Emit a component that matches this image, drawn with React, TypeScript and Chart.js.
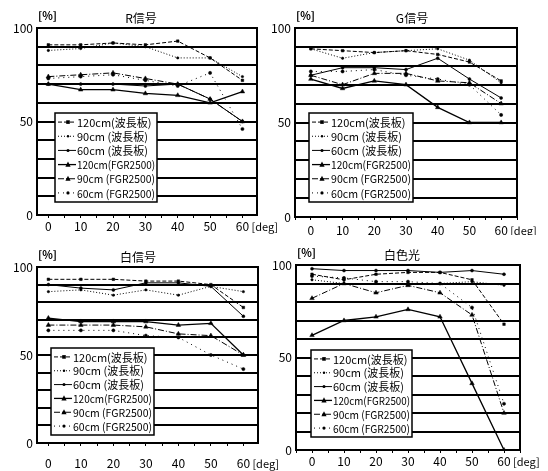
import React, { useEffect, useRef } from "react";
import { Chart, registerables } from "chart.js";

Chart.register(...registerables);

// ---------- data ----------
const angles = [0, 10, 20, 30, 40, 50, 60];
const xTickLabels = ["0", "10", "20", "30", "40", "50", "60"];
const yTickLabels = ["0", "50", "100"];
const panelTitles = ["R信号", "G信号", "白信号", "白色光"];
const seriesNames = [
  "120cm(波長板)",
  "90cm (波長板)",
  "60cm (波長板)",
  "120cm(FGR2500)",
  "90cm (FGR2500)",
  "60cm (FGR2500)",
];

// R信号
const rWave120 = [91, 91, 92, 91, 93, 84, 72];
const rWave90 = [88, 89, 92, 90, 84, 84, 74];
const rWave60 = [70, 70, 70, 69, 70, 62, 50];
const rFgr120 = [70, 67, 67, 65, 64, 60, 66];
const rFgr90 = [74, 75, 76, 73, 70, 62, 50];
const rFgr60 = [73, 74, 75, 72, 69, 76, 46];

// G信号
const gWave120 = [89, 88, 87, 88, 86, 82, 72];
const gWave90 = [89, 84, 87, 88, 89, 83, 71];
const gWave60 = [75, 79, 79, 78, 84, 73, 63];
const gFgr120 = [73, 68, 72, 70, 58, 50, 50];
const gFgr90 = [75, 70, 76, 76, 72, 71, 60];
const gFgr60 = [77, 77, 78, 75, 73, 70, 54];

// 白信号
const wWave120 = [93, 93, 93, 92, 92, 90, 77];
const wWave90 = [86, 87, 84, 87, 84, 89, 86];
const wWave60 = [90, 88, 87, 91, 91, 89, 72];
const wFgr120 = [71, 69, 69, 69, 67, 68, 50];
const wFgr90 = [67, 67, 67, 66, 62, 61, 50];
const wFgr60 = [64, 64, 64, 61, 60, 50, 42];

// 白色光
const cWave120 = [95, 92, 95, 96, 96, 92, 68];
const cWave90 = [92, 90, 90, 90, 90, 91, 89];
const cWave60 = [98, 97, 97, 97, 96, 97, 95];
const cFgr120 = [62, 70, 72, 76, 72, 36, 0];
const cFgr90 = [82, 90, 85, 89, 85, 73, 20];
const cFgr60 = [94, 93, 91, 91, 90, 77, 25];

const panelSeries = [
  [rWave120, rWave90, rWave60, rFgr120, rFgr90, rFgr60],
  [gWave120, gWave90, gWave60, gFgr120, gFgr90, gFgr60],
  [wWave120, wWave90, wWave60, wFgr120, wFgr90, wFgr60],
  [cWave120, cWave90, cWave60, cFgr120, cFgr90, cFgr60],
];

// ---------- layout / style ----------
const FONT = "'Noto Sans CJK JP', 'Noto Sans', sans-serif";

const canvasBoxes = [
  { left: 0, top: 0, width: 290, height: 235 },
  { left: 262, top: 0, width: 286, height: 235 },
  { left: 0, top: 235, width: 290, height: 236 },
  { left: 262, top: 235, width: 286, height: 236 },
];
const plotBoxes = [
  { l: 37, t: 28, r: 257, b: 215 },
  { l: 295, t: 28, r: 517, b: 217 },
  { l: 37, t: 267, r: 258, b: 443 },
  { l: 296, t: 265, r: 520, b: 450 },
];
const xRanges = [
  [-3.5, 64.5],
  [-5, 65],
  [-3.5, 64.5],
  [-5, 65],
];
const xLabelPad = [1, 3, 10, 1];
const titleCenters = [141, 412, 138, 402];
const legendBoxes = [
  { x: 55, y: 113, w: 102, h: 89 },
  { x: 309, y: 113, w: 104, h: 89 },
  { x: 51, y: 348, w: 103, h: 87 },
  { x: 311, y: 350, w: 101, h: 87 },
];

const seriesDash: number[][] = [[4, 2], [1, 2], [], [], [6, 2, 1, 2], [1, 4]];
const seriesPoint = ["rect", "circle", "circle", "triangle", "triangle", "circle"];
const seriesRadius = [1.8, 1.2, 1.5, 2.6, 2.6, 1.6];
const seriesWidth = [1, 1, 1, 1.3, 1, 1];

function drawMarker(ctx: CanvasRenderingContext2D, style: string, r: number, x: number, y: number) {
  ctx.beginPath();
  if (style === "triangle") {
    ctx.moveTo(x, y - r * 1.2);
    ctx.lineTo(x + r, y + r * 0.8);
    ctx.lineTo(x - r, y + r * 0.8);
    ctx.closePath();
  } else if (style === "rect") {
    ctx.rect(x - r, y - r, 2 * r, 2 * r);
  } else {
    ctx.arc(x, y, r, 0, Math.PI * 2);
  }
  ctx.fill();
}

function makeDecor(idx: number) {
  return {
    id: "decor" + idx,
    afterDraw(chart: any) {
      const ctx: CanvasRenderingContext2D = chart.ctx;
      const a = chart.chartArea;
      const cb = canvasBoxes[idx];
      ctx.save();
      // frame
      ctx.setLineDash([]);
      ctx.strokeStyle = "#000";
      ctx.lineWidth = 2;
      ctx.strokeRect(a.left, a.top, a.right - a.left, a.bottom - a.top);
      // title and units
      ctx.fillStyle = "#000";
      ctx.textBaseline = "middle";
      ctx.font = "12px " + FONT;
      ctx.textAlign = "center";
      ctx.fillText(panelTitles[idx], titleCenters[idx] - cb.left, a.top - 10);
      ctx.textAlign = "left";
      ctx.font = "bold 11px " + FONT;
      ctx.fillText("[%]", a.left + 1, a.top - 12);
      ctx.font = "11px " + FONT;
      const xs = chart.scales.x;
      const degX = xs.getPixelForValue(60) + 9;
      ctx.fillText("[deg]", degX, a.bottom + xLabelPad[idx] + 3 + 8);
      // legend
      const lb = legendBoxes[idx];
      const lx = lb.x - cb.left;
      const ly = lb.y - cb.top;
      ctx.fillStyle = "#fff";
      ctx.fillRect(lx, ly, lb.w, lb.h);
      ctx.strokeStyle = "#000";
      ctx.lineWidth = 1.5;
      ctx.strokeRect(lx, ly, lb.w, lb.h);
      const rowH = (lb.h - 4) / seriesNames.length;
      seriesNames.forEach((name, i) => {
        const cy = ly + 2 + rowH * (i + 0.5);
        ctx.strokeStyle = "#000";
        ctx.lineWidth = seriesWidth[i];
        ctx.setLineDash(seriesDash[i]);
        ctx.beginPath();
        ctx.moveTo(lx + 3, cy);
        ctx.lineTo(lx + 21, cy);
        ctx.stroke();
        ctx.setLineDash([]);
        ctx.fillStyle = "#000";
        drawMarker(ctx, seriesPoint[i], seriesRadius[i], lx + 13, cy);
        ctx.font = "11px " + FONT;
        ctx.textAlign = "left";
        ctx.textBaseline = "middle";
        ctx.fillText(name, lx + 22, cy + 0.5, lb.w - 24);
      });
      ctx.restore();
    },
  };
}

function Panel({ idx }: { idx: number }) {
  const ref = useRef<HTMLCanvasElement | null>(null);
  useEffect(() => {
    if (!ref.current) return;
    const cb = canvasBoxes[idx];
    const pb = plotBoxes[idx];
    const yWidth = pb.l - cb.left;
    const xHeight = cb.top + cb.height - pb.b;
    const chart = new Chart(ref.current, {
      type: "line",
      data: {
        datasets: panelSeries[idx].map((vals, i) => ({
          label: seriesNames[i],
          data: angles.map((a, k) => ({ x: a, y: vals[k] })),
          borderColor: "#000",
          backgroundColor: "#000",
          borderWidth: seriesWidth[i],
          borderDash: seriesDash[i],
          pointStyle: seriesPoint[i] as any,
          pointRadius: seriesRadius[i],
          pointBackgroundColor: "#000",
          pointBorderColor: "#000",
          pointBorderWidth: 0.5,
          tension: 0,
          fill: false,
        })),
      },
      options: {
        animation: false,
        responsive: false,
        maintainAspectRatio: false,
        events: [],
        layout: {
          padding: {
            left: 0,
            top: pb.t - cb.top,
            right: cb.left + cb.width - pb.r,
            bottom: 0,
          },
        },
        plugins: {
          legend: { display: false },
          title: { display: false },
          tooltip: { enabled: false },
        },
        scales: {
          x: {
            type: "linear",
            min: xRanges[idx][0],
            max: xRanges[idx][1],
            afterFit: (s: any) => {
              s.height = xHeight;
            },
            border: { display: true, color: "#000", width: 2 },
            grid: {
              display: true,
              drawOnChartArea: false,
              drawTicks: true,
              tickLength: 3,
              color: "#000",
              lineWidth: 1,
            },
            ticks: {
              stepSize: 5,
              includeBounds: false,
              autoSkip: false,
              maxRotation: 0,
              minRotation: 0,
              padding: xLabelPad[idx],
              color: "#000",
              font: { family: FONT, size: 12 },
              callback: (v: any) => {
                const k = angles.indexOf(Number(v));
                return k >= 0 ? xTickLabels[k] : "";
              },
            },
          },
          y: {
            type: "linear",
            min: 0,
            max: 100,
            afterFit: (s: any) => {
              s.width = yWidth;
            },
            border: { display: true, color: "#000", width: 2 },
            grid: {
              display: true,
              drawTicks: false,
              color: "#000",
              lineWidth: 2,
            },
            ticks: {
              stepSize: 10,
              autoSkip: false,
              padding: 4,
              color: "#000",
              font: { family: FONT, size: 12 },
              callback: (v: any) => {
                const k = [0, 50, 100].indexOf(Number(v));
                return k >= 0 ? yTickLabels[k] : "";
              },
            },
          },
        },
      },
      plugins: [makeDecor(idx)],
    } as any);
    return () => chart.destroy();
  }, [idx]);
  const cb = canvasBoxes[idx];
  return (
    <canvas
      ref={ref}
      width={cb.width}
      height={cb.height}
      style={{
        position: "absolute",
        left: cb.left,
        top: cb.top,
        width: cb.width,
        height: cb.height,
      }}
    />
  );
}

export default function App() {
  return (
    <div
      style={{
        position: "absolute",
        left: 0,
        top: 0,
        width: 548,
        height: 471,
        background: "#fff",
        overflow: "hidden",
      }}
    >
      {[0, 1, 2, 3].map((i) => (
        <Panel key={i} idx={i} />
      ))}
    </div>
  );
}
